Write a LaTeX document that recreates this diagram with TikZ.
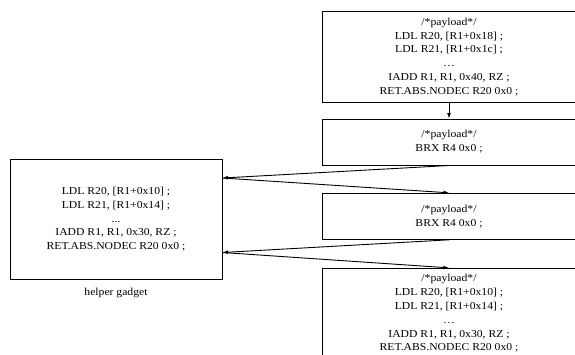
\documentclass[tikz,border=0pt]{standalone}
\usepackage{fontspec}
\setmainfont{Liberation Serif}[FakeStretch=1.1]
\usetikzlibrary{arrows.meta}
\begin{document}
\begin{tikzpicture}[x=1pt,y=-1pt,
  txt/.style={inner sep=0pt, align=center, font=\fontsize{10.6}{13.8}\selectfont},
  box/.style={txt, draw, line width=1pt, minimum width=254pt},
  conn/.style={line width=0.9pt, -{Latex[length=5.5pt,width=4pt]}}]
\clip (0,0) rectangle (575,354);
\node[box, minimum height=90.3pt] (p1) at (449,56.9)
  {/*payload*/\\LDL R20, [R1+0x18] ;\\LDL R21, [R1+0x1c] ;\\…\\IADD R1, R1, 0x40, RZ ;\\RET.ABS.NODEC R20 0x0 ;};
\node[box, minimum height=46pt] (p2) at (449,142)
  {/*payload*/\\BRX R4 0x0 ;};
\node[box, minimum height=46pt] (p3) at (449,216.3)
  {/*payload*/\\BRX R4 0x0 ;};
\node[box, minimum height=90.3pt] (p4) at (449,313.5)
  {/*payload*/\\LDL R20, [R1+0x10] ;\\LDL R21, [R1+0x14] ;\\…\\IADD R1, R1, 0x30, RZ ;\\RET.ABS.NODEC R20 0x0 ;};
\node[txt, draw, line width=1pt, minimum width=212pt, minimum height=120pt] (helper) at (116,219.3)
  {LDL R20, [R1+0x10] ;\\LDL R21, [R1+0x14] ;\\...\\IADD R1, R1, 0x30, RZ ;\\RET.ABS.NODEC R20 0x0 ;};
\node[txt] (lbl) at (116,292.5) {helper gadget};
\coordinate (h1) at ([yshift=41.3pt]helper.east);
\coordinate (h2) at ([yshift=-33.2pt]helper.east);
\draw[conn] (p1.south) -- (p2.north);
\draw[conn] (p2.south) -- (h1);
\draw[conn] (h1) -- (p3.north);
\draw[conn] (p3.south) -- (h2);
\draw[conn] (h2) -- (p4.north);
\end{tikzpicture}
\end{document}
